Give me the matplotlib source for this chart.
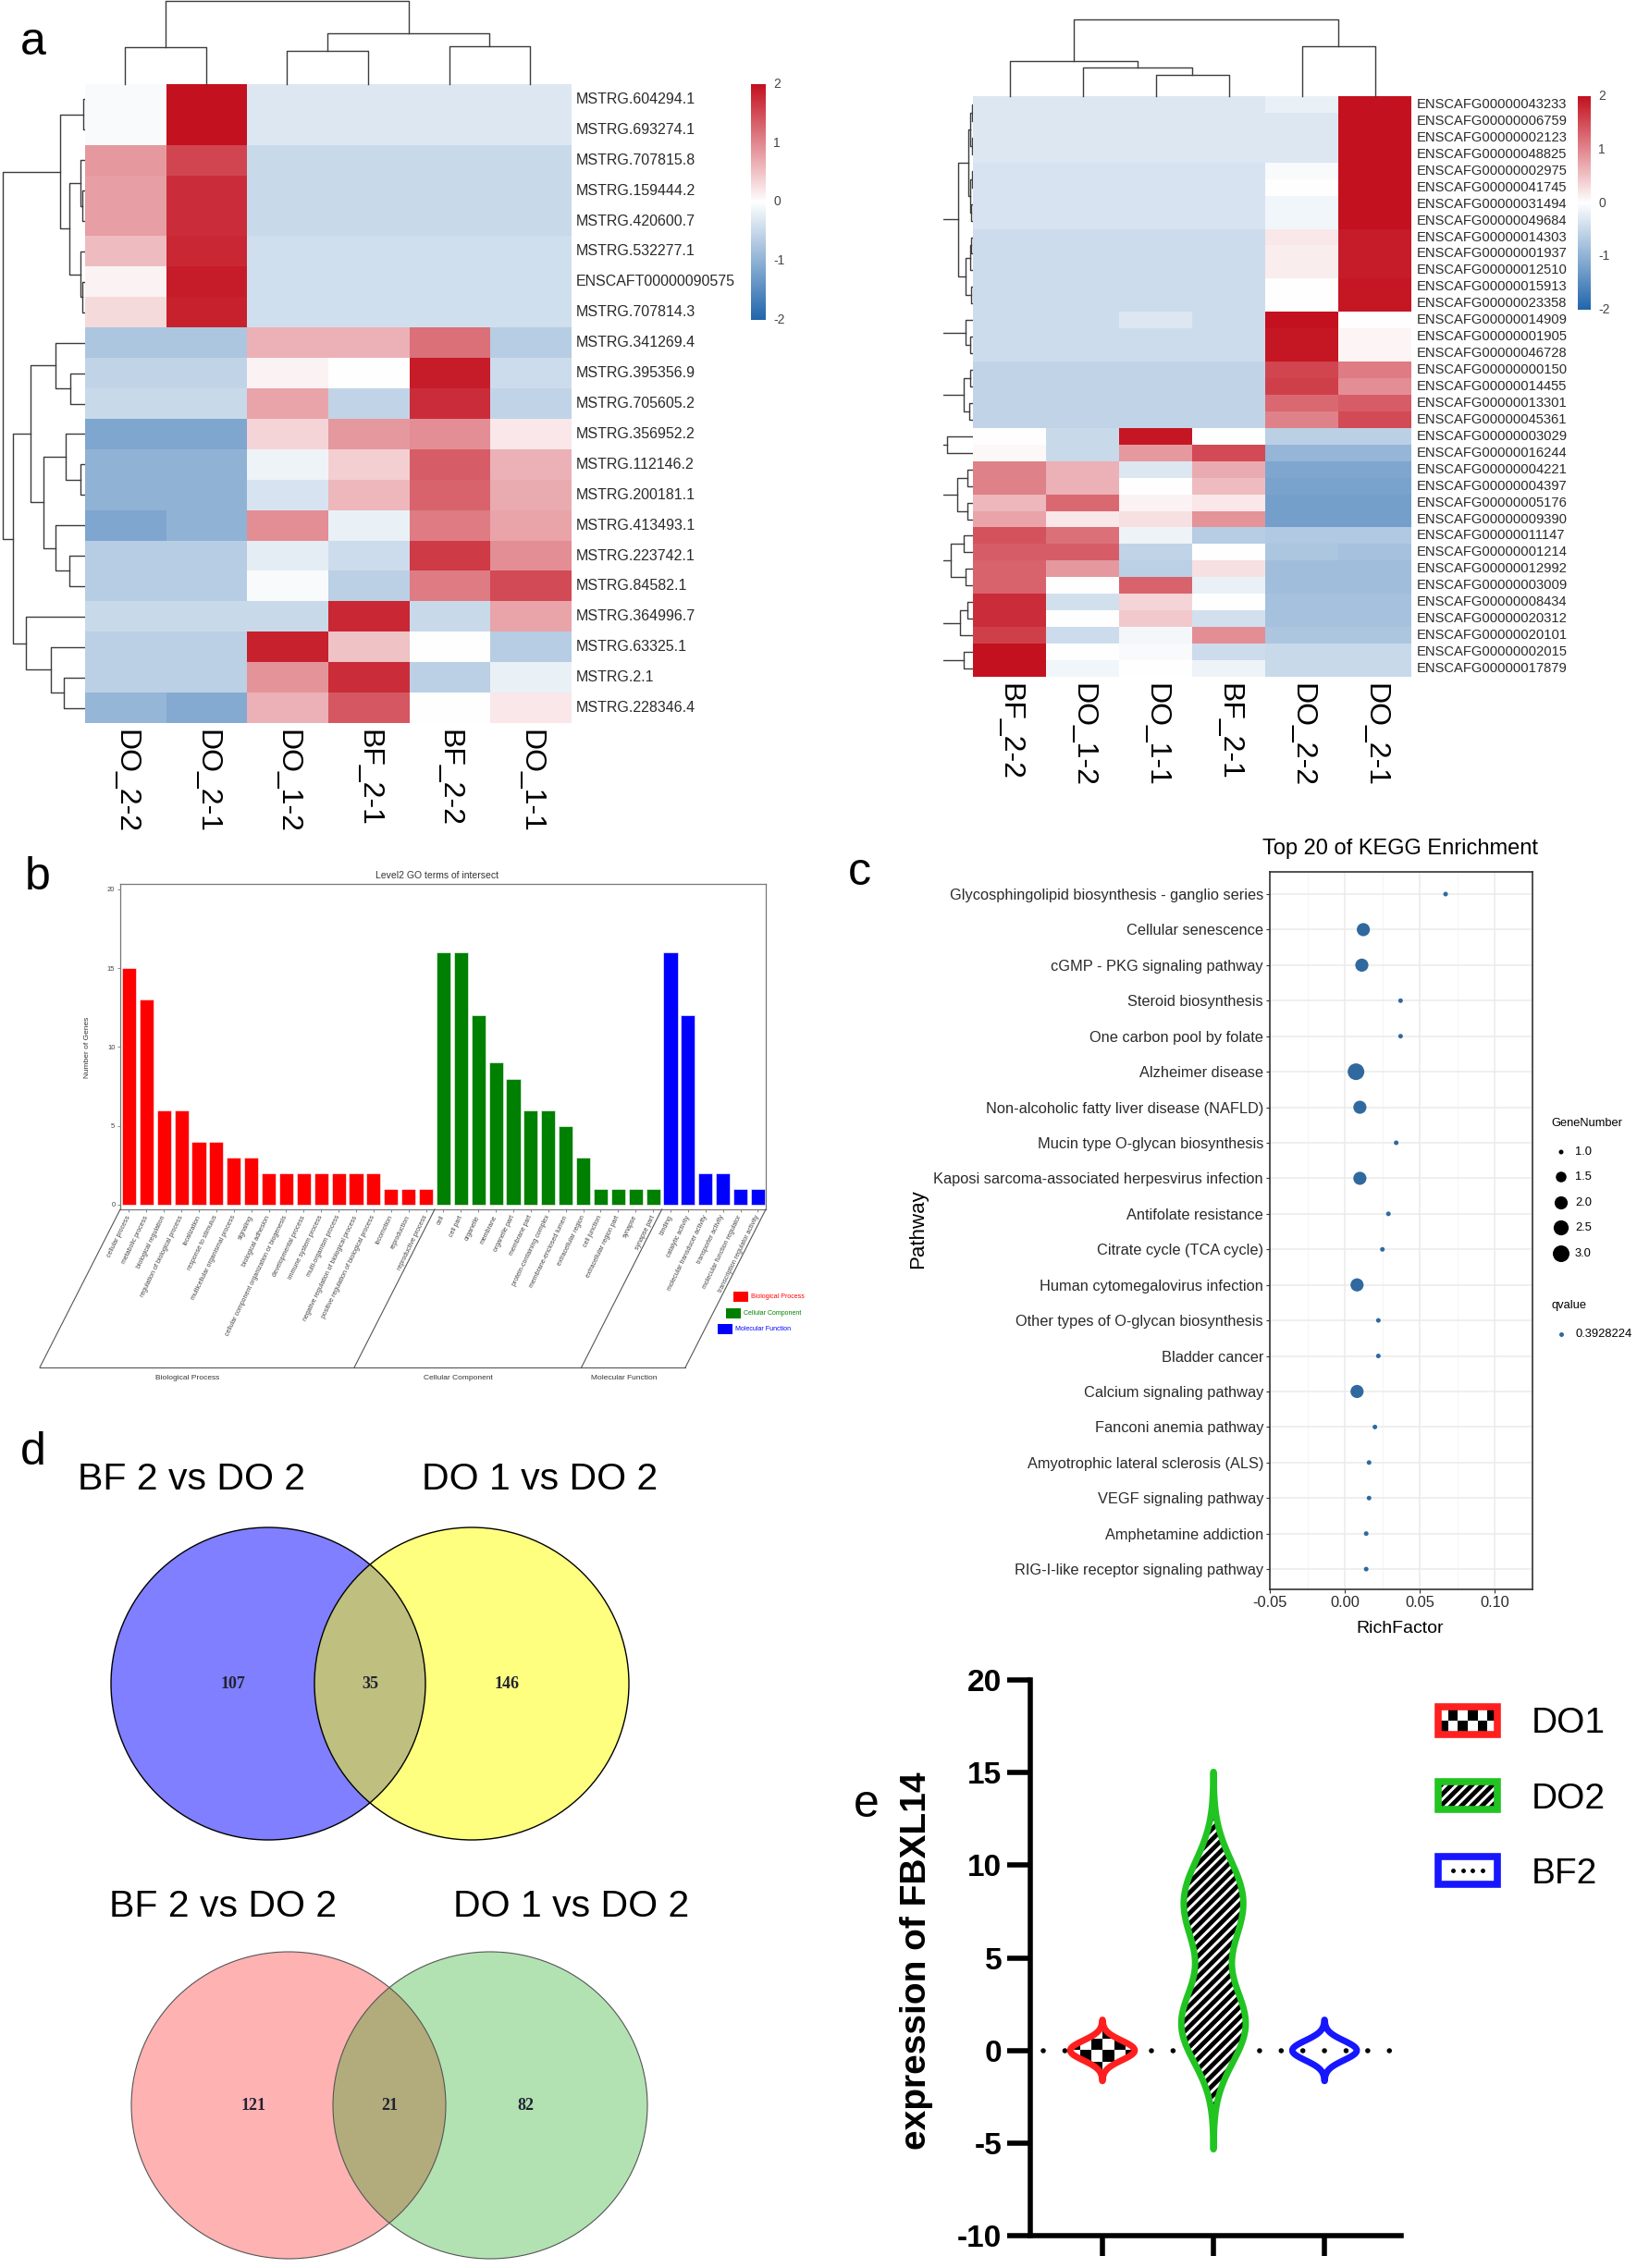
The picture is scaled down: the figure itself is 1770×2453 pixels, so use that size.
import numpy as np
import matplotlib
matplotlib.use('Agg')
import matplotlib.pyplot as plt
from matplotlib import font_manager, mlab
from matplotlib.colors import LinearSegmentedColormap
from matplotlib.patches import Ellipse, Rectangle, Patch, PathPatch
from matplotlib.lines import Line2D
from matplotlib.legend_handler import HandlerBase
from matplotlib.ticker import FormatStrFormatter, MultipleLocator

# ============================ DATA ============================
# ---- panel a, left heatmap
left_genes = ['MSTRG.604294.1', 'MSTRG.693274.1', 'MSTRG.707815.8', 'MSTRG.159444.2',
              'MSTRG.420600.7', 'MSTRG.532277.1', 'ENSCAFT00000090575', 'MSTRG.707814.3',
              'MSTRG.341269.4', 'MSTRG.395356.9', 'MSTRG.705605.2', 'MSTRG.356952.2',
              'MSTRG.112146.2', 'MSTRG.200181.1', 'MSTRG.413493.1', 'MSTRG.223742.1',
              'MSTRG.84582.1', 'MSTRG.364996.7', 'MSTRG.63325.1', 'MSTRG.2.1', 'MSTRG.228346.4']
left_samples = ['DO_2-2', 'DO_2-1', 'DO_1-2', 'BF_2-1', 'BF_2-2', 'DO_1-1']
left_expr = [
    [-0.05, 2.00, -0.30, -0.30, -0.30, -0.30],
    [-0.05, 2.00, -0.30, -0.30, -0.30, -0.30],
    [0.85, 1.55, -0.50, -0.50, -0.50, -0.50],
    [0.80, 1.75, -0.50, -0.50, -0.50, -0.50],
    [0.80, 1.75, -0.50, -0.50, -0.50, -0.50],
    [0.55, 1.80, -0.42, -0.42, -0.42, -0.42],
    [0.10, 1.90, -0.42, -0.42, -0.42, -0.42],
    [0.30, 1.85, -0.42, -0.42, -0.42, -0.42],
    [-0.75, -0.75, 0.65, 0.65, 1.20, -0.65],
    [-0.55, -0.55, 0.10, 0.00, 1.90, -0.45],
    [-0.50, -0.50, 0.75, -0.55, 1.75, -0.55],
    [-1.15, -1.15, 0.35, 0.85, 0.95, 0.20],
    [-1.00, -1.00, -0.15, 0.40, 1.35, 0.65],
    [-1.00, -1.00, -0.35, 0.60, 1.30, 0.70],
    [-1.15, -1.00, 0.95, -0.20, 1.10, 0.75],
    [-0.65, -0.65, -0.25, -0.45, 1.65, 0.95],
    [-0.65, -0.65, -0.05, -0.60, 1.10, 1.50],
    [-0.50, -0.50, -0.50, 1.80, -0.50, 0.75],
    [-0.60, -0.60, 1.85, 0.50, 0.00, -0.65],
    [-0.60, -0.60, 0.90, 1.75, -0.60, -0.20],
    [-0.95, -1.10, 0.65, 1.40, 0.00, 0.20],
]
# dendrogram merges: (node_a, node_b, height); new nodes numbered after leaves
left_col_merges = [(0, 1, 67), (2, 3, 60), (4, 5, 70), (7, 8, 93), (6, 9, 152)]
left_row_merges = [(0, 1, 3), (3, 4, 5), (2, 22, 8), (6, 7, 5), (5, 24, 9), (23, 25, 30),
                   (21, 26, 47), (9, 10, 28), (8, 28, 57), (12, 13, 8), (11, 30, 37),
                   (15, 16, 30), (14, 32, 57), (31, 33, 80), (29, 34, 105), (19, 20, 40),
                   (18, 36, 65), (17, 37, 115), (35, 38, 140), (27, 39, 160)]

# ---- panel a, right heatmap
right_genes = ['ENSCAFG00000043233', 'ENSCAFG00000006759', 'ENSCAFG00000002123', 'ENSCAFG00000048825',
               'ENSCAFG00000002975', 'ENSCAFG00000041745', 'ENSCAFG00000031494', 'ENSCAFG00000049684',
               'ENSCAFG00000014303', 'ENSCAFG00000001937', 'ENSCAFG00000012510', 'ENSCAFG00000015913',
               'ENSCAFG00000023358', 'ENSCAFG00000014909', 'ENSCAFG00000001905', 'ENSCAFG00000046728',
               'ENSCAFG00000000150', 'ENSCAFG00000014455', 'ENSCAFG00000013301', 'ENSCAFG00000045361',
               'ENSCAFG00000003029', 'ENSCAFG00000016244', 'ENSCAFG00000004221', 'ENSCAFG00000004397',
               'ENSCAFG00000005176', 'ENSCAFG00000009390', 'ENSCAFG00000011147', 'ENSCAFG00000001214',
               'ENSCAFG00000012992', 'ENSCAFG00000003009', 'ENSCAFG00000008434', 'ENSCAFG00000020312',
               'ENSCAFG00000020101', 'ENSCAFG00000002015', 'ENSCAFG00000017879']
right_samples = ['BF_2-2', 'DO_1-2', 'DO_1-1', 'BF_2-1', 'DO_2-2', 'DO_2-1']
right_expr = [
    [-0.30, -0.30, -0.30, -0.30, -0.20, 2.00],
    [-0.30, -0.30, -0.30, -0.30, -0.30, 2.00],
    [-0.30, -0.30, -0.30, -0.30, -0.30, 2.00],
    [-0.30, -0.30, -0.30, -0.30, -0.30, 2.00],
    [-0.35, -0.35, -0.35, -0.35, -0.05, 2.00],
    [-0.35, -0.35, -0.35, -0.35, 0.00, 2.00],
    [-0.35, -0.35, -0.35, -0.35, -0.12, 2.00],
    [-0.35, -0.35, -0.35, -0.35, -0.12, 2.00],
    [-0.45, -0.45, -0.45, -0.45, 0.20, 1.90],
    [-0.45, -0.45, -0.45, -0.45, 0.15, 1.90],
    [-0.45, -0.45, -0.45, -0.45, 0.15, 1.90],
    [-0.45, -0.45, -0.45, -0.45, 0.00, 1.95],
    [-0.45, -0.45, -0.45, -0.45, 0.00, 1.95],
    [-0.45, -0.45, -0.30, -0.45, 2.00, 0.00],
    [-0.45, -0.45, -0.45, -0.45, 1.95, 0.08],
    [-0.45, -0.45, -0.45, -0.45, 1.95, 0.08],
    [-0.55, -0.55, -0.55, -0.55, 1.55, 1.10],
    [-0.55, -0.55, -0.55, -0.55, 1.60, 0.95],
    [-0.55, -0.55, -0.55, -0.55, 1.25, 1.35],
    [-0.55, -0.55, -0.55, -0.55, 1.05, 1.50],
    [0.00, -0.50, 1.95, 0.00, -0.60, -0.60],
    [0.05, -0.50, 0.85, 1.50, -0.95, -0.95],
    [1.05, 0.65, -0.30, 0.70, -1.15, -1.15],
    [1.05, 0.65, 0.00, 0.55, -1.20, -1.20],
    [0.60, 1.25, 0.10, 0.20, -1.25, -1.25],
    [0.75, 0.20, 0.25, 0.90, -1.25, -1.25],
    [1.45, 1.20, -0.15, -0.65, -0.70, -0.70],
    [1.35, 1.35, -0.55, 0.00, -0.75, -0.80],
    [1.30, 0.85, -0.60, 0.25, -0.85, -0.85],
    [1.30, 0.00, 1.30, -0.20, -0.85, -0.85],
    [1.75, -0.40, 0.35, 0.00, -0.80, -0.80],
    [1.75, 0.00, 0.45, -0.40, -0.80, -0.80],
    [1.60, -0.45, -0.10, 0.95, -0.75, -0.75],
    [2.00, 0.00, -0.05, -0.45, -0.50, -0.50],
    [2.00, -0.12, 0.00, -0.15, -0.50, -0.50],
]
right_col_merges = [(2, 3, 40), (1, 6, 55), (0, 7, 67), (4, 5, 95), (8, 9, 147)]
right_row_merges = [(0, 1, 1.5), (2, 3, 1.5), (35, 36, 3), (4, 5, 1.5), (6, 7, 2), (38, 39, 3.5),
                    (37, 40, 4.7), (8, 9, 2), (10, 42, 3), (11, 12, 2), (43, 44, 8), (41, 45, 15.7),
                    (14, 15, 3), (13, 47, 8), (16, 17, 3), (18, 19, 4), (49, 50, 10), (48, 51, 35),
                    (46, 52, 40), (20, 21, 28), (22, 23, 6), (24, 25, 6), (55, 56, 17), (26, 27, 10),
                    (28, 29, 8), (58, 59, 24), (30, 31, 6), (61, 32, 14), (33, 34, 10), (62, 63, 36),
                    (57, 60, 38), (65, 64, 45), (54, 66, 50), (53, 67, 60)]
cbar_ticks = [2, 1, 0, -1, -2]

# ---- panel b, GO level 2
go_bp_terms = ['cellular process', 'metabolic process', 'biological regulation',
               'regulation of biological process', 'localization', 'response to stimulus',
               'multicellular organismal process', 'signaling', 'biological adhesion',
               'cellular component organization or biogenesis', 'developmental process',
               'immune system process', 'multi-organism process',
               'negative regulation of biological process', 'positive regulation of biological process',
               'locomotion', 'reproduction', 'reproductive process']
go_bp_counts = [15, 13, 6, 6, 4, 4, 3, 3, 2, 2, 2, 2, 2, 2, 2, 1, 1, 1]
go_cc_terms = ['cell', 'cell part', 'organelle', 'membrane', 'organelle part', 'membrane part',
               'protein-containing complex', 'membrane-enclosed lumen', 'extracellular region',
               'cell junction', 'extracellular region part', 'synapse', 'synapse part']
go_cc_counts = [16, 16, 12, 9, 8, 6, 6, 5, 3, 1, 1, 1, 1]
go_mf_terms = ['binding', 'catalytic activity', 'molecular transducer activity',
               'transporter activity', 'molecular function regulator',
               'transcription regulator activity']
go_mf_counts = [16, 12, 2, 2, 1, 1]
go_categories = ['Biological Process', 'Cellular Component', 'Molecular Function']
go_yticks = [0, 5, 10, 15, 20]

# ---- panel c, KEGG
kegg_pathways = ['Glycosphingolipid biosynthesis - ganglio series', 'Cellular senescence',
                 'cGMP - PKG signaling pathway', 'Steroid biosynthesis', 'One carbon pool by folate',
                 'Alzheimer disease', 'Non-alcoholic fatty liver disease (NAFLD)',
                 'Mucin type O-glycan biosynthesis', 'Kaposi sarcoma-associated herpesvirus infection',
                 'Antifolate resistance', 'Citrate cycle (TCA cycle)', 'Human cytomegalovirus infection',
                 'Other types of O-glycan biosynthesis', 'Bladder cancer', 'Calcium signaling pathway',
                 'Fanconi anemia pathway', 'Amyotrophic lateral sclerosis (ALS)',
                 'VEGF signaling pathway', 'Amphetamine addiction', 'RIG-I-like receptor signaling pathway']
kegg_richfactor = [0.0671, 0.0123, 0.0113, 0.0371, 0.0371, 0.0074, 0.0100, 0.0342, 0.0100, 0.0290,
                   0.0250, 0.0081, 0.0223, 0.0223, 0.0081, 0.0200, 0.0161, 0.0161, 0.0142, 0.0142]
kegg_genenumber = [1, 2, 2, 1, 1, 3, 2, 1, 2, 1, 1, 2, 1, 1, 2, 1, 1, 1, 1, 1]
kegg_qvalue = 0.3928224
kegg_xticks = [-0.05, 0.00, 0.05, 0.10]
kegg_size_legend = [1.0, 1.5, 2.0, 2.5, 3.0]

# ---- panel d, Venn
venn_titles = ['BF 2 vs DO 2', 'DO 1 vs DO 2']
venn_top_counts = [107, 35, 146]
venn_bottom_counts = [121, 21, 82]

# ---- panel e, violin
fbxl_groups = ['DO1', 'DO2', 'BF2']
fbxl_do1 = [-0.3, 0.0, 0.3]
fbxl_do2 = [0.4, 1.4, 2.4, 6.6, 8.0, 9.3]
fbxl_bf2 = [-0.3, 0.0, 0.3]
fbxl_yticks = [-10, -5, 0, 5, 10, 15, 20]

# ============================ STYLE ============================
plt.rcParams['font.family'] = ['Liberation Sans', 'DejaVu Sans']
plt.rcParams['axes.unicode_minus'] = False
plt.rcParams['hatch.linewidth'] = 3.5

avail = {f.name for f in font_manager.fontManager.ttflist}
NARROW = 'Liberation Sans Narrow' if 'Liberation Sans Narrow' in avail else 'Liberation Sans'
def nfs(reg):
    return reg / 0.82 if NARROW == 'Liberation Sans Narrow' else reg

W, H = 1770, 2453
fig = plt.figure(figsize=(W / 100, H / 100), dpi=100)
fig.patch.set_facecolor('white')

def add_ax(x0, y0, x1, y1, **kw):
    return fig.add_axes([x0 / W, 1 - y1 / H, (x1 - x0) / W, (y1 - y0) / H], **kw)

cmap_hm = LinearSegmentedColormap.from_list('hm', ['#2166ac', '#ffffff', '#c4111f'])
DCOL = '#3c3c3c'

def draw_dendro(ax, merges, n, columns, lw=1.0):
    pos = {i: i + 0.5 for i in range(n)}
    hgt = {i: 0.0 for i in range(n)}
    for k, (a, b, h) in enumerate(merges):
        pa, pb, ha, hb = pos[a], pos[b], hgt[a], hgt[b]
        if columns:
            ax.plot([pa, pa, pb, pb], [ha, h, h, hb], color=DCOL, lw=lw, clip_on=False)
        else:
            ax.plot([ha, h, h, hb], [pa, pa, pb, pb], color=DCOL, lw=lw)
        pos[n + k] = (pa + pb) / 2
        hgt[n + k] = h

def heatmap(rect, values, rows, cols, row_fs, col_fs):
    ax = add_ax(*rect)
    v = np.array(values, dtype=float)
    nr, nc = v.shape
    ax.imshow(v, cmap=cmap_hm, vmin=-2, vmax=2, extent=(0, nc, nr, 0), aspect='auto',
              interpolation='nearest')
    ax.set_xlim(0, nc)
    ax.set_ylim(nr, 0)
    ax.axis('off')
    for i, r in enumerate(rows):
        ax.annotate(r, xy=(1, i + 0.5), xycoords=('axes fraction', 'data'), xytext=(4, 0),
                    textcoords='offset points', ha='left', va='center', fontsize=row_fs,
                    color='#2a2a2a', annotation_clip=False)
    for j, c in enumerate(cols):
        ax.annotate(c, xy=(j + 0.5, 0), xycoords=('data', 'axes fraction'), xytext=(0, -5),
                    textcoords='offset points', ha='center', va='top', rotation=270,
                    fontsize=col_fs, color='black', annotation_clip=False)
    return ax

def colorbar(rect):
    ax = add_ax(*rect)
    ax.imshow(np.linspace(2, -2, 256)[:, None], cmap=cmap_hm, vmin=-2, vmax=2,
              extent=(0, 1, -2, 2), aspect='auto')
    ax.set_xlim(0, 1)
    ax.set_ylim(-2, 2)
    ax.axis('off')
    for t in cbar_ticks:
        ax.annotate(f'{t:g}', xy=(1, t), xycoords=('axes fraction', 'data'), xytext=(6, 0),
                    textcoords='offset points', ha='left', va='center', fontsize=10,
                    color='#444444', annotation_clip=False)

# ============================ PANEL a ============================
heatmap((91.5, 91, 617, 782), left_expr, left_genes, left_samples, 11.5, 23)
colorbar((812, 91, 828, 346))
axd = add_ax(91.5, 1, 617, 91)
draw_dendro(axd, left_col_merges, len(left_samples), True)
axd.set_xlim(0, len(left_samples)); axd.set_ylim(0, 152); axd.axis('off')
axd = add_ax(0, 91, 91.5, 782)
draw_dendro(axd, left_row_merges, len(left_genes), False)
axd.set_xlim(165, 0); axd.set_ylim(len(left_genes), 0); axd.axis('off')

heatmap((1052, 104, 1526, 732), right_expr, right_genes, right_samples, 10.6, 23)
colorbar((1706, 104, 1720, 335))
axd = add_ax(1052, 21, 1526, 104)
draw_dendro(axd, right_col_merges, len(right_samples), True)
axd.set_xlim(0, len(right_samples)); axd.set_ylim(0, 147); axd.axis('off')
axd = add_ax(1020, 104, 1052, 732)
draw_dendro(axd, right_row_merges, len(right_genes), False)
axd.set_xlim(32, 0); axd.set_ylim(len(right_genes), 0); axd.axis('off')

# ============================ PANEL b ============================
B_L, B_T, B_R, B_B = 130, 956, 828, 1308
axb = add_ax(B_L, B_T, B_R, B_B)
terms = go_bp_terms + go_cc_terms + go_mf_terms
counts = go_bp_counts + go_cc_counts + go_mf_counts
bar_cols = ['#ff0000'] * len(go_bp_terms) + ['#008000'] * len(go_cc_terms) + ['#0000ff'] * len(go_mf_terms)
xb = np.arange(len(terms))
axb.bar(xb, counts, width=0.8, color=bar_cols, edgecolor='white', linewidth=0.4)
B_XLIM = (-0.5, len(terms) - 0.55)
axb.set_xlim(*B_XLIM)
axb.set_ylim(-0.3, 20.35)
axb.set_yticks(go_yticks)
axb.set_xticks(xb)
axb.set_xticklabels(terms, rotation=64, ha='right', va='center', rotation_mode='anchor',
                    fontsize=5, color='#444444')
axb.tick_params(axis='x', length=2, pad=3, color='#777777', width=0.6)
axb.tick_params(axis='y', length=2, pad=2, labelsize=5.5, labelcolor='#444444', color='#777777', width=0.6)
for s in axb.spines.values():
    s.set_color('#777777'); s.set_linewidth(0.9)

# ============================ PANEL c ============================
axc = add_ax(1373, 943, 1657, 1719)
yk = np.arange(len(kegg_pathways))
def dot_px(g, lo=5.0, hi=18.0):
    return lo + (hi - lo) * np.sqrt((np.asarray(g, dtype=float) - 1.0) / 2.0)
axc.scatter(kegg_richfactor, yk, s=(dot_px(kegg_genenumber) * 0.72) ** 2, color='#30699e',
            linewidths=0, zorder=3)
axc.set_xlim(-0.05, 0.125)
axc.set_ylim(len(kegg_pathways) - 0.43, -0.625)
axc.set_xticks(kegg_xticks)
axc.xaxis.set_major_formatter(FormatStrFormatter('%.2f'))
axc.xaxis.set_minor_locator(MultipleLocator(0.025))
axc.set_yticks(yk)
axc.set_yticklabels(kegg_pathways)
axc.set_axisbelow(True)
axc.grid(True, which='major', color='#ebebeb', lw=1.1)
axc.grid(True, which='minor', axis='x', color='#f2f2f2', lw=0.6)
axc.tick_params(which='minor', length=0)
axc.tick_params(which='major', length=3, color='#333333', width=0.8, labelcolor='#2a2a2a', pad=2)
for lbl in axc.get_yticklabels() + axc.get_xticklabels():
    lbl.set_fontfamily(NARROW)
    lbl.set_fontsize(nfs(11.8))
for s in axc.spines.values():
    s.set_color('#333333'); s.set_linewidth(1.2)

# ============================ PANEL e ============================
def violin_stats(vals, bw, cut, npts=400):
    v = np.asarray(vals, dtype=float)
    coords = np.linspace(v.min() - cut * bw, v.max() + cut * bw, npts)
    kde = mlab.GaussianKDE(v, bw_method=bw / v.std(ddof=1))
    dens = kde.evaluate(coords)
    return dict(coords=coords, vals=dens, mean=v.mean(), median=np.median(v),
                min=v.min(), max=v.max(), quantiles=np.array([]))

axe = add_ax(1114, 1817, 1515, 2418)
vstats = [violin_stats(fbxl_do1, 0.45, 3.0), violin_stats(fbxl_do2, 1.85, 3.1),
          violin_stats(fbxl_bf2, 0.45, 3.0)]
vcols = ['#ff1f1f', '#22c422', '#1616ff']
positions = [1, 2, 3]
parts = axe.violin(vstats, positions=positions, widths=0.58, showmeans=False,
                   showextrema=False, showmedians=False)
axe.axhline(0, xmin=0.035, xmax=0.99, color='black', lw=4, ls=(0, (0.01, 4.2)),
            dash_capstyle='round', zorder=2)
for i, body in enumerate(parts['bodies']):
    path = body.get_paths()[0]
    body.set_alpha(1)
    body.set_facecolor('white')
    body.set_edgecolor('black')
    body.set_linewidth(0)
    if i == 0:
        body.set_zorder(3)
        checker = (np.indices((10, 8)).sum(axis=0) % 2).astype(float)
        im = axe.imshow(checker, cmap='gray_r', extent=(0.6, 1.4, -3.0, 3.0), aspect='auto',
                        interpolation='nearest', zorder=3.5)
        im.set_clip_path(path, axe.transData)
    elif i == 1:
        body.set_zorder(3)
        body.set_hatch('///')
    else:
        body.set_zorder(1)
    axe.add_patch(PathPatch(path, fc='none', ec=vcols[i], lw=5, joinstyle='round', zorder=4))
axe.set_xlim(0.35, 3.69)
axe.set_ylim(-10, 20)
axe.set_aspect('auto')
axe.set_yticks(fbxl_yticks)
axe.set_xticks(positions)
axe.set_xticklabels([''] * len(positions))
for s in ['top', 'right']:
    axe.spines[s].set_visible(False)
for s in ['left', 'bottom']:
    axe.spines[s].set_linewidth(4)
axe.tick_params(axis='y', length=18, width=4, labelsize=24, pad=4)
axe.tick_params(axis='x', length=16, width=4)
for lbl in axe.get_yticklabels():
    lbl.set_fontweight('bold')

class SwatchHandler(HandlerBase):
    def __init__(self, kind):
        super().__init__()
        self.kind = kind
    def create_artists(self, legend, orig_handle, xdescent, ydescent, width, height, fontsize, trans):
        x0, y0 = -xdescent, -ydescent
        arts = [Rectangle((x0, y0), width, height, fc='white', ec='none', transform=trans)]
        if self.kind == 'checker':
            nx, ny = 6, 2
            for a in range(nx):
                for b in range(ny):
                    if (a + b) % 2 == 0:
                        arts.append(Rectangle((x0 + a * width / nx, y0 + b * height / ny),
                                              width / nx, height / ny, fc='black', ec='none',
                                              transform=trans))
        elif self.kind == 'dots':
            xs = x0 + width * np.array([0.25, 0.42, 0.58, 0.75])
            arts.append(Line2D(xs, [y0 + height / 2] * 4, ls='none', marker='o', ms=2.5,
                               color='black', transform=trans))
        else:
            arts.append(Rectangle((x0, y0), width, height, fc='none', ec='black', lw=0,
                                  hatch=self.kind, transform=trans))
        arts.append(Rectangle((x0, y0), width, height, fc='none', ec=orig_handle.get_edgecolor(),
                              lw=orig_handle.get_linewidth(), transform=trans))
        return arts

handles = [Patch(edgecolor=c, facecolor='white', linewidth=5.5) for c in vcols]
kinds = ['checker', '///', 'dots']
fig.legend(handles, fbxl_groups, handler_map={h: SwatchHandler(k) for h, k in zip(handles, kinds)},
           loc='upper left', bbox_to_anchor=(1555 / W, 1 - 1846 / H), frameon=False,
           fontsize=28, handlelength=1.65, handleheight=0.8, handletextpad=0.93,
           labelspacing=1.15, borderpad=0, borderaxespad=0)

# ============================ OVERLAY (pixel coords) ============================
ov = fig.add_axes([0, 0, 1, 1], zorder=10)
ov.set_xlim(0, W); ov.set_ylim(H, 0); ov.axis('off')

# panel letters
for letter, (lx, ly) in zip('abcde', [(22, 59), (27, 962), (917, 957), (22, 1584), (923, 1965)]):
    ov.text(lx, ly, letter, fontsize=36, ha='left', va='baseline', color='black')

# panel b decorations
def bx(xd):
    return B_L + (xd - B_XLIM[0]) / (B_XLIM[1] - B_XLIM[0]) * (B_R - B_L)
SL_DX, SL_BOT = -87, 1479
nbp, ncc = len(go_bp_terms), len(go_cc_terms)
tops = [B_L, bx(nbp - 0.5), bx(nbp + ncc - 0.5), B_R]
for xt in tops:
    ov.plot([xt, xt + SL_DX], [B_B, SL_BOT], color='#555555', lw=0.8)
ov.plot([tops[0] + SL_DX, tops[-1] + SL_DX], [SL_BOT, SL_BOT], color='#555555', lw=0.8)
for k, name in enumerate(go_categories):
    cx = (tops[k] + tops[k + 1]) / 2 + SL_DX - 10
    ov.text(cx, SL_BOT + 11, name, fontsize=6, ha='center', va='center', color='#333333')
ov.text(473, 947, 'Level2 GO terms of intersect', fontsize=7.5, ha='center', va='center', color='#333333')
ov.text(95, 1133, 'Number of Genes', fontsize=6, rotation=90, ha='center', va='center', color='#333333')
for (sx, sy), name, col in zip([(793, 1397), (785, 1415), (776, 1432)], go_categories,
                               ['#ff0000', '#008000', '#0000ff']):
    ov.add_patch(Rectangle((sx, sy), 16, 11, fc=col, ec='none'))
    ov.text(sx + 19, sy + 5.5, name, fontsize=5, color=col, ha='left', va='center')

# panel c decorations
ov.text(1514, 918, 'Top 20 of KEGG Enrichment', fontsize=nfs(17), fontfamily=NARROW,
        ha='center', va='center', color='black')
ov.text(993, 1329, 'Pathway', fontsize=nfs(16), fontfamily=NARROW, rotation=90,
        ha='center', va='center', color='black')
ov.text(1514, 1762, 'RichFactor', fontsize=nfs(14), fontfamily=NARROW, ha='center',
        va='center', color='black')
ov.text(1677, 1215, 'GeneNumber', fontsize=nfs(9.3), fontfamily=NARROW, ha='left', va='center')
leg_y = [1246, 1273, 1301, 1328, 1356]
ov.scatter([1688] * len(kegg_size_legend), leg_y, s=(dot_px(kegg_size_legend) * 0.72) ** 2,
           color='black', linewidths=0)
for yv, g in zip(leg_y, kegg_size_legend):
    ov.text(1703, yv, f'{g:.1f}', fontsize=nfs(9.3), fontfamily=NARROW, ha='left', va='center')
ov.text(1677, 1412, 'qvalue', fontsize=nfs(9.3), fontfamily=NARROW, ha='left', va='center')
ov.scatter([1688], [1443], s=(dot_px([1.0]) * 0.72) ** 2, color='#30699e', linewidths=0)
ov.text(1703, 1443, f'{kegg_qvalue}', fontsize=nfs(9.3), fontfamily=NARROW, ha='left', va='center')

# panel d: Venn diagrams
def venn(cxl, cxr, cy, rx, ry, fc_l, fc_r, ec, lw, counts, title_pos):
    ov.add_patch(Ellipse((cxl, cy), 2 * rx, 2 * ry, fc=fc_l, ec='none'))
    ov.add_patch(Ellipse((cxr, cy), 2 * rx, 2 * ry, fc=fc_r, ec='none'))
    ov.add_patch(Ellipse((cxl, cy), 2 * rx, 2 * ry, fc='none', ec=ec, lw=lw))
    ov.add_patch(Ellipse((cxr, cy), 2 * rx, 2 * ry, fc='none', ec=ec, lw=lw))
    for x, c in zip([cxl - 38, (cxl + cxr) / 2, cxr + 38], counts):
        ov.text(x, cy, str(c), fontsize=13, fontfamily=['Liberation Serif', 'DejaVu Serif'],
                fontweight='bold', ha='center', va='center', color='#222233')
    for (tx, ty), t in zip(title_pos, venn_titles):
        ov.text(tx, ty, t, fontsize=29.5, ha='center', va='center', color='black')

venn(290, 510, 1821, 170, 169, (0, 0, 1, 0.5), (1, 1, 0, 0.5), 'black', 1.0,
     venn_top_counts, [(207, 1600), (584, 1600)])
venn(312, 530, 2277, 170, 166, (1, 0, 0, 0.3), (0, 0.63, 0, 0.3), '#555555', 0.8,
     venn_bottom_counts, [(241, 2062), (618, 2062)])

# panel e y label
ov.text(991, 2121, 'expression of FBXL14', fontsize=28, fontweight='bold', rotation=90,
        ha='center', va='center', color='black')

fig.savefig('out.png', dpi=100, facecolor='white')
